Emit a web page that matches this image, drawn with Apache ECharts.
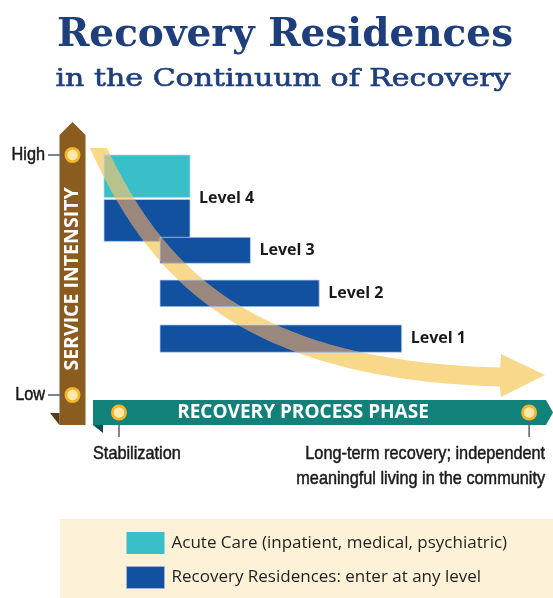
<!DOCTYPE html>
<html><head><meta charset="utf-8">
<script src="https://cdn.jsdelivr.net/npm/echarts@6/dist/echarts.min.js"></script>
<style>html,body{margin:0;padding:0;background:#fff}#c{width:553px;height:598px}</style>
</head><body><div id="c"></div>
<script>
// ---------------- data ----------------
const levels = ['Level 4', 'Level 3', 'Level 2', 'Level 1'];
const residenceStart = [0, 12.7, 12.7, 12.7];      // recovery-phase axis (0-100)
const residenceEnd   = [19.5, 33.2, 48.8, 67.5];
const residenceHigh  = [81.5, 65.7, 47.9, 29.2];   // service-intensity axis (0-100)
const residenceLow   = [64.0, 54.9, 36.8, 17.8];
const acuteStart = [0];
const acuteEnd   = [19.5];
const acuteHigh  = [100];
const acuteLow   = [82.3];
const intensityLabels = ['High', 'Low'];
const intensityValues = [100, 0];
const phaseLabels = ['Stabilization', 'Long-term recovery; independent\nmeaningful living in the community'];
const phaseValues = [3.4, 96.4];
const seriesNames = ['Acute Care (inpatient, medical, psychiatric)', 'Recovery Residences: enter at any level'];

// ---------------- helpers ----------------
const NARROW = "'Liberation Sans','Arimo',sans-serif";
const NARROW_SCALE = 0.88;
const SANS = "'Open Sans','Noto Sans',sans-serif";
const C_CYAN = '#38bfc7', C_BLUE = '#1151a0';
const C_ARROW = '#f8d98c', C_OV_CYAN = '#b8c28e', C_OV_BLUE = '#9a887f';

function clipEdge(poly, inside, inter) {
  const out = [];
  for (let i = 0; i < poly.length; i++) {
    const cur = poly[i], prev = poly[(i + poly.length - 1) % poly.length];
    const ci = inside(cur), pi = inside(prev);
    if (ci) { if (!pi) out.push(inter(prev, cur)); out.push(cur); }
    else if (pi) out.push(inter(prev, cur));
  }
  return out;
}
function clipRect(poly, x0, y0, x1, y1) {
  const ix = (a, b, x) => { const t = (x - a[0]) / (b[0] - a[0]); return [x, a[1] + t * (b[1] - a[1])]; };
  const iy = (a, b, y) => { const t = (y - a[1]) / (b[1] - a[1]); return [a[0] + t * (b[0] - a[0]), y]; };
  let p = poly;
  p = clipEdge(p, q => q[0] >= x0, (a, b) => ix(a, b, x0)); if (!p.length) return p;
  p = clipEdge(p, q => q[0] <= x1, (a, b) => ix(a, b, x1)); if (!p.length) return p;
  p = clipEdge(p, q => q[1] >= y0, (a, b) => iy(a, b, y0)); if (!p.length) return p;
  p = clipEdge(p, q => q[1] <= y1, (a, b) => iy(a, b, y1));
  return p;
}
// curved "recovery path" arrow shape (decorative, in pixels)
const ARROW = (function () {
  const P0 = [95, 141], P1 = [150, 260], P2 = [230, 370], P3 = [500, 377];
  const up = [], lo = [], N = 100;
  for (let k = 0; k <= N; k++) {
    const t = k / N, u = 1 - t;
    const x = u*u*u*P0[0] + 3*u*u*t*P1[0] + 3*u*t*t*P2[0] + t*t*t*P3[0];
    const y = u*u*u*P0[1] + 3*u*u*t*P1[1] + 3*u*t*t*P2[1] + t*t*t*P3[1];
    const dx = 3*u*u*(P1[0]-P0[0]) + 6*u*t*(P2[0]-P1[0]) + 3*t*t*(P3[0]-P2[0]);
    const dy = 3*u*u*(P1[1]-P0[1]) + 6*u*t*(P2[1]-P1[1]) + 3*t*t*(P3[1]-P2[1]);
    const L = Math.hypot(dx, dy), nx = dy / L, ny = -dx / L, hw = (15.5 + 3.5 * t) / 2;
    up.push([x + nx * hw, y + ny * hw]); lo.push([x - nx * hw, y - ny * hw]);
  }
  const poly = up.concat([[501, 354], [545, 375], [501, 397]], lo.reverse());
  return clipRect(poly, 0, 148, 553, 598);
})();

function barGroup(api, fill, ovFill, label, labelY) {
  const p0 = api.coord([api.value(0), api.value(2)]);
  const p1 = api.coord([api.value(1), api.value(3)]);
  const x0 = p0[0], y0 = p0[1], x1 = p1[0], y1 = p1[1];
  const ch = [
    { type: 'rect', shape: { x: x0, y: y0, width: x1 - x0, height: y1 - y0 }, style: { fill: fill } }
  ];
  const ov = clipRect(ARROW, x0, y0, x1, y1);
  if (ov.length > 2) ch.push({ type: 'polygon', shape: { points: ov }, style: { fill: ovFill } });
  ch.push({ type: 'rect', shape: { x: x0, y: y0, width: x1 - x0, height: y1 - y0 },
    style: { fill: 'none', stroke: 'rgba(190,210,240,0.75)', lineWidth: 1 } });
  if (label) {
    const ly = api.coord([0, labelY])[1];
    ch.push({ type: 'text', style: { text: label, x: x1 + 9, y: ly, align: 'left', verticalAlign: 'middle',
      textAlign: 'left', textVerticalAlign: 'middle',
      font: "bold 16px " + SANS, fill: '#1a1a1a' } });
  }
  return { type: 'group', children: ch };
}

const chart = echarts.init(document.getElementById('c'), null, { renderer: 'canvas' });
const option = {
  animation: false,
  backgroundColor: '#ffffff',
  grid: { left: 104, right: 8, top: 155, bottom: 203 },
  xAxis: { type: 'value', min: 0, max: 100, show: false },
  yAxis: { type: 'value', min: 0, max: 100, show: false },
  legend: {
    data: [
      { name: seriesNames[0], itemStyle: { color: C_CYAN } },
      { name: seriesNames[1], itemStyle: { color: C_BLUE, borderColor: '#9bb2dd', borderWidth: 1 } }
    ],
    orient: 'vertical', left: 126, top: 532, itemWidth: 38, itemHeight: 22, itemGap: 12,
    icon: 'rect', selectedMode: false, padding: 0,
    textStyle: { fontFamily: SANS, fontSize: 17, color: '#231f20', padding: [0, 0, 0, 2] }
  },
  graphic: [
    { type: 'text', z: 1, style: { text: 'Recovery Residences', x: 285, y: 36, align: 'center', verticalAlign: 'middle',
      textAlign: 'center', textVerticalAlign: 'middle', font: "bold 39px 'DejaVu Serif',serif", fill: '#1f3f7c' } },
    { type: 'text', z: 1, x: 283, y: 80, scaleX: 1.25,
      style: { text: 'in the Continuum of Recovery', x: 0, y: 0, align: 'center', verticalAlign: 'middle',
      textAlign: 'center', textVerticalAlign: 'middle', font: "24px 'DejaVu Serif',serif", fill: '#1f3f7c',
      stroke: '#1f3f7c', lineWidth: 0.6 } },
    // service-intensity ribbon
    { type: 'polygon', z: 0, shape: { points: [[59.5, 135], [72.5, 122], [85.5, 135], [85.5, 425], [59.5, 425]] }, style: { fill: '#8a5c1f' } },
    { type: 'polygon', z: 0, shape: { points: [[50, 413], [59.5, 413], [59.5, 425]] }, style: { fill: '#5b3b13' } },
    { type: 'text', z: 1, x: 72.5, y: 279, rotation: Math.PI / 2,
      style: { text: 'SERVICE INTENSITY', x: 0, y: 0, align: 'center', verticalAlign: 'middle',
        textAlign: 'center', textVerticalAlign: 'middle', font: "bold 19.5px " + SANS, fill: '#ffffff' } },
    // recovery-process ribbon
    { type: 'polygon', z: 0, shape: { points: [[93, 400], [546, 400], [553, 412.5], [546, 425], [93, 425]] }, style: { fill: '#12817a' } },
    { type: 'polygon', z: 0, shape: { points: [[93, 425], [103, 425], [103, 433]] }, style: { fill: '#0b4d57' } },
    { type: 'text', z: 1, style: { text: 'RECOVERY PROCESS PHASE', x: 303, y: 413, align: 'center', verticalAlign: 'middle',
      textAlign: 'center', textVerticalAlign: 'middle', font: "bold 19px " + SANS, fill: '#ffffff' } },
    // legend panel
    { type: 'rect', z: 0, shape: { x: 60, y: 519, width: 493, height: 79 }, style: { fill: '#fdf1d7' } }
  ],
  series: [
    { type: 'custom', name: 'path', z: 3, clip: false, silent: true,
      data: [[0]], renderItem: () => ({ type: 'polygon', shape: { points: ARROW }, style: { fill: C_ARROW } }) },
    { type: 'custom', name: seriesNames[0], z: 4, clip: false, silent: true,
      itemStyle: { color: C_CYAN },
      dimensions: ['start', 'end', 'high', 'low'], encode: { x: [0, 1], y: [2, 3] },
      data: acuteStart.map((s, i) => [s, acuteEnd[i], acuteHigh[i], acuteLow[i]]),
      renderItem: (params, api) => barGroup(api, C_CYAN, C_OV_CYAN, null, 0) },
    { type: 'custom', name: seriesNames[1], z: 4, clip: false, silent: true,
      itemStyle: { color: C_BLUE },
      dimensions: ['start', 'end', 'high', 'low'], encode: { x: [0, 1], y: [2, 3] },
      data: residenceStart.map((s, i) => [s, residenceEnd[i], residenceHigh[i], residenceLow[i]]),
      renderItem: (params, api) => {
        const i = params.dataIndex;
        const top = i === 0 ? acuteHigh[0] : residenceHigh[i];
        return barGroup(api, C_BLUE, C_OV_BLUE, levels[i], (top + residenceLow[i]) / 2);
      } },
    { type: 'custom', name: 'intensity', z: 5, clip: false, silent: true,
      data: intensityValues.map(v => [v]),
      renderItem: (params, api) => {
        const i = params.dataIndex;
        const y = api.coord([0, api.value(0)])[1];
        return { type: 'group', children: [
          { type: 'line', shape: { x1: 48, y1: y, x2: 65, y2: y }, style: { stroke: '#55606c', lineWidth: 1.5 } },
          { type: 'circle', shape: { cx: 72.5, cy: y, r: 8 }, style: { fill: '#f5b52a' } },
          { type: 'circle', shape: { cx: 72.5, cy: y, r: 5.3 }, style: { fill: '#fde7a9' } },
          { type: 'text', x: 45, y: y, scaleX: NARROW_SCALE,
            style: { text: intensityLabels[i], x: 0, y: 0, align: 'right', verticalAlign: 'middle',
            textAlign: 'right', textVerticalAlign: 'middle', font: "18.5px " + NARROW, fill: '#1a1a1a',
            stroke: '#1a1a1a', lineWidth: 0.5 } }
        ] };
      } },
    { type: 'custom', name: 'phase', z: 5, clip: false, silent: true,
      data: phaseValues.map(v => [v]),
      renderItem: (params, api) => {
        const i = params.dataIndex;
        const x = api.coord([api.value(0), 0])[0];
        const cy = 412.5;
        return { type: 'group', children: [
          { type: 'line', shape: { x1: x, y1: cy, x2: x, y2: 437 }, style: { stroke: '#55606c', lineWidth: 1.5 } },
          { type: 'circle', shape: { cx: x, cy: cy, r: 8 }, style: { fill: '#f5b52a' } },
          { type: 'circle', shape: { cx: x, cy: cy, r: 5.3 }, style: { fill: '#fde7a9' } },
          { type: 'text', x: i === 0 ? x - 26 : x + 16, y: 441, scaleX: NARROW_SCALE,
            style: { text: phaseLabels[i], x: 0, y: 0,
            align: i === 0 ? 'left' : 'right', verticalAlign: 'top',
            textAlign: i === 0 ? 'left' : 'right', textVerticalAlign: 'top',
            font: "18.5px " + NARROW, lineHeight: 25, fill: '#1a1a1a',
            stroke: '#1a1a1a', lineWidth: 0.5 } }
        ] };
      } }
  ]
};
chart.setOption(option);
</script>
</body></html>
